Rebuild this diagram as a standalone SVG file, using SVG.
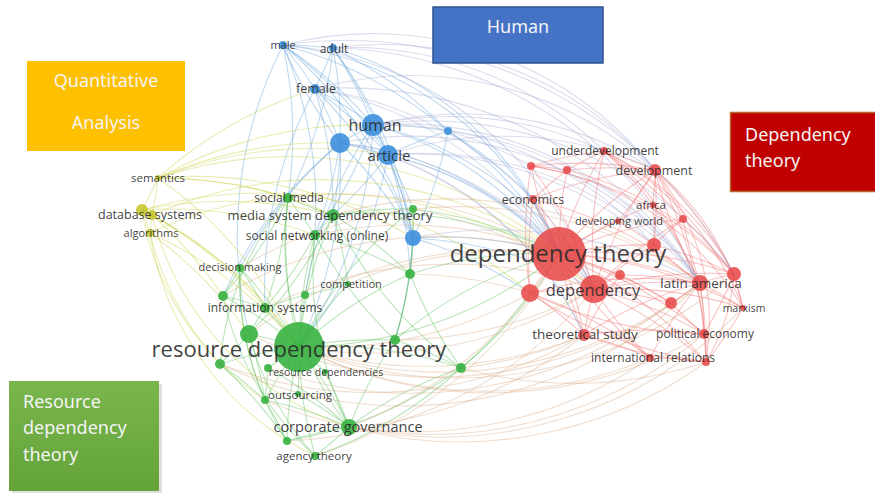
<svg xmlns="http://www.w3.org/2000/svg" width="875" height="493" viewBox="0 0 875 493">
<defs>
<style>
.e path{fill:none;stroke-width:1.1;stroke-opacity:.38}
.r path{stroke:#f06060}
.b path{stroke:#5a9ad8}
.p path{stroke:#9fa6d0}
.g path{stroke:#4cbb4c}
.y path{stroke:#c8cc3a}
.t path{stroke:#d8a884}
.nr{fill:#e84545;fill-opacity:.85}
.nb{fill:#3d8fdc;fill-opacity:.9}
.ng{fill:#33b03c;fill-opacity:.88}
.ny{fill:#c4c42a;fill-opacity:.88}
text.l{font-family:"Open Sans","Liberation Sans",sans-serif;fill:#2a2a2a;text-anchor:middle;fill-opacity:.9}
text.bx{font-family:"Noto Sans","Liberation Sans",sans-serif;fill:#f4f4f4;font-size:18px}
</style>
<linearGradient id="gg" x1="0" y1="0" x2="0" y2="1"><stop offset="0" stop-color="#79b64e"/><stop offset="1" stop-color="#64a23a"/></linearGradient>
</defs>
<rect width="875" height="493" fill="#fff"/>
<g id="connectors">
<g class="e r">
<path d="M559 254A420 420 0 0 1 604 151"/><path d="M559 254A420 420 0 0 1 531 166"/><path d="M559 254A420 420 0 0 1 567 170"/><path d="M559 254A420 420 0 0 1 655 170"/><path d="M559 254A420 420 0 0 1 533 199"/><path d="M559 254A420 420 0 0 1 653 205"/><path d="M559 254A420 420 0 0 1 683 219"/><path d="M559 254A420 420 0 0 1 618 221"/><path d="M559 254A420 420 0 0 1 654 245"/><path d="M559 254A420 420 0 0 1 620 275"/><path d="M559 254A420 420 0 0 1 700 283"/><path d="M559 254A420 420 0 0 1 734 274"/><path d="M559 254A420 420 0 0 1 671 303"/><path d="M559 254A420 420 0 0 1 743 308"/><path d="M559 254A420 420 0 0 1 704 334"/><path d="M559 254A420 420 0 0 1 706 362"/><path d="M584 335A420 420 0 0 1 559 254"/><path d="M650 358A420 420 0 0 1 559 254"/><path d="M530 293A420 420 0 0 1 559 254"/><path d="M594 289A420 420 0 0 1 559 254"/>
<path d="M594 289A420 420 0 0 1 604 151"/><path d="M594 289A420 420 0 0 1 655 170"/><path d="M594 289A420 420 0 0 1 683 219"/><path d="M594 289A420 420 0 0 1 654 245"/><path d="M594 289A420 420 0 0 1 700 283"/><path d="M594 289A420 420 0 0 1 734 274"/><path d="M594 289A420 420 0 0 1 743 308"/><path d="M594 289A420 420 0 0 1 704 334"/><path d="M594 289A420 420 0 0 1 706 362"/><path d="M584 335A420 420 0 0 1 594 289"/><path d="M650 358A420 420 0 0 1 594 289"/><path d="M530 293A420 420 0 0 1 594 289"/><path d="M594 289A420 420 0 0 1 620 275"/><path d="M594 289A420 420 0 0 1 671 303"/><path d="M533 199A420 420 0 0 1 594 289"/><path d="M531 166A420 420 0 0 1 594 289"/>
<path d="M700 283A420 420 0 0 1 655 170"/><path d="M700 283A420 420 0 0 1 683 219"/><path d="M700 283A420 420 0 0 1 654 245"/><path d="M700 283A420 420 0 0 1 734 274"/><path d="M700 283A420 420 0 0 1 743 308"/><path d="M700 283A420 420 0 0 1 704 334"/><path d="M700 283A420 420 0 0 1 706 362"/><path d="M584 335A420 420 0 0 1 700 283"/><path d="M650 358A420 420 0 0 1 700 283"/><path d="M530 293A420 420 0 0 1 700 283"/><path d="M700 283A420 420 0 0 1 671 303"/><path d="M620 275A420 420 0 0 1 700 283"/><path d="M604 151A420 420 0 0 1 700 283"/>
<path d="M604 151A420 420 0 0 1 655 170"/><path d="M531 166A420 420 0 0 1 655 170"/><path d="M567 170A420 420 0 0 1 655 170"/><path d="M533 199A420 420 0 0 1 655 170"/><path d="M655 170A420 420 0 0 1 653 205"/><path d="M655 170A420 420 0 0 1 683 219"/><path d="M655 170A420 420 0 0 1 618 221"/><path d="M655 170A420 420 0 0 1 654 245"/><path d="M655 170A420 420 0 0 1 734 274"/><path d="M655 170A420 420 0 0 1 704 334"/>
<path d="M530 293A420 420 0 0 1 533 199"/><path d="M530 293A420 420 0 0 1 531 166"/><path d="M530 293A420 420 0 0 1 584 335"/><path d="M530 293A420 420 0 0 1 650 358"/><path d="M584 335A420 420 0 0 1 704 334"/><path d="M584 335A420 420 0 0 1 650 358"/><path d="M584 335A420 420 0 0 1 620 275"/><path d="M704 334A420 420 0 0 1 706 362"/><path d="M734 274A420 420 0 0 1 704 334"/><path d="M704 334A420 420 0 0 1 671 303"/><path d="M654 245A420 420 0 0 1 734 274"/><path d="M683 219A420 420 0 0 1 734 274"/><path d="M734 274A420 420 0 0 1 743 308"/><path d="M531 166A420 420 0 0 1 604 151"/><path d="M567 170A420 420 0 0 1 604 151"/><path d="M604 151A420 420 0 0 1 683 219"/><path d="M531 166A420 420 0 0 1 567 170"/><path d="M533 199A420 420 0 0 1 567 170"/><path d="M654 245A420 420 0 0 1 683 219"/><path d="M653 205A420 420 0 0 1 654 245"/><path d="M618 221A420 420 0 0 1 654 245"/><path d="M620 275A420 420 0 0 1 671 303"/><path d="M743 308A420 420 0 0 1 706 362"/>
<path d="M604 151A300 300 0 0 1 734 274"/><path d="M604 151A300 300 0 0 1 743 308"/><path d="M655 170A250 250 0 0 1 743 308"/><path d="M531 166A350 350 0 0 1 734 274"/><path d="M533 199A420 420 0 0 1 700 283"/><path d="M704 334A420 420 0 0 1 530 293"/><path d="M706 362A420 420 0 0 1 530 293"/><path d="M706 362A420 420 0 0 1 584 335"/><path d="M734 274A200 200 0 0 1 706 362"/><path d="M567 170A320 320 0 0 1 734 274"/><path d="M604 151A260 260 0 0 1 706 362"/><path d="M655 170A240 240 0 0 1 706 362"/><path d="M531 166A300 300 0 0 1 743 308"/><path d="M650 358A420 420 0 0 1 706 362"/><path d="M533 199A420 420 0 0 1 584 335"/>
</g>
<g class="e b">
<path d="M283 45A420 420 0 0 1 333 48"/><path d="M283 45A420 420 0 0 1 315 89"/><path d="M333 48A420 420 0 0 1 315 89"/><path d="M283 45A420 420 0 0 1 373 125"/><path d="M333 48A420 420 0 0 1 373 125"/><path d="M340 143A420 420 0 0 1 283 45"/><path d="M333 48A420 420 0 0 1 340 143"/><path d="M315 89A420 420 0 0 1 373 125"/><path d="M315 89A420 420 0 0 1 340 143"/><path d="M315 89A420 420 0 0 1 388 155"/><path d="M283 45A420 420 0 0 1 388 155"/><path d="M333 48A420 420 0 0 1 388 155"/><path d="M340 143A420 420 0 0 1 373 125"/><path d="M373 125A420 420 0 0 1 388 155"/><path d="M340 143A420 420 0 0 1 388 155"/><path d="M373 125A420 420 0 0 1 448 131"/><path d="M388 155A420 420 0 0 1 448 131"/><path d="M388 155A420 420 0 0 1 413 238"/><path d="M373 125A420 420 0 0 1 413 238"/><path d="M340 143A420 420 0 0 1 413 238"/><path d="M283 45A420 420 0 0 1 413 238"/><path d="M333 48A420 420 0 0 1 413 238"/><path d="M315 89A420 420 0 0 1 413 238"/><path d="M448 131A420 420 0 0 1 413 238"/><path d="M333 48A420 420 0 0 1 448 131"/><path d="M283 45A420 420 0 0 1 448 131"/>
<path d="M283 45A420 420 0 0 1 288 198"/><path d="M283 45A420 420 0 0 1 315 235"/><path d="M340 143A420 420 0 0 1 333 215"/><path d="M340 143A420 420 0 0 1 315 235"/><path d="M240 268A420 420 0 0 1 340 143"/><path d="M223 296A420 420 0 0 1 340 143"/><path d="M388 155A420 420 0 0 1 333 215"/><path d="M388 155A420 420 0 0 1 299 347"/><path d="M373 125A420 420 0 0 1 299 347"/><path d="M265 308A420 420 0 0 1 315 89"/><path d="M249 334A420 420 0 0 1 283 45"/><path d="M388 155A420 420 0 0 1 413 209"/><path d="M373 125A420 420 0 0 1 315 235"/><path d="M340 143A420 420 0 0 1 299 347"/><path d="M315 89A420 420 0 0 1 333 215"/><path d="M388 155A420 420 0 0 1 410 274"/><path d="M413 238A420 420 0 0 1 410 274"/><path d="M413 238A420 420 0 0 1 395 340"/><path d="M333 48A420 420 0 0 1 288 198"/><path d="M305 295A420 420 0 0 1 373 125"/>
<path d="M283 45A340 340 0 0 1 559 254"/><path d="M333 48A340 340 0 0 1 559 254"/><path d="M373 125A340 340 0 0 1 559 254"/><path d="M340 143A340 340 0 0 1 559 254"/><path d="M388 155A340 340 0 0 1 559 254"/><path d="M448 131A340 340 0 0 1 559 254"/><path d="M413 238A420 420 0 0 1 559 254"/><path d="M413 238A420 420 0 0 1 594 289"/><path d="M413 238A420 420 0 0 1 530 293"/><path d="M373 125A340 340 0 0 1 594 289"/><path d="M448 131A420 420 0 0 1 533 199"/>
</g>
<g class="e p">
<path d="M283 45A360 360 0 0 1 655 170"/><path d="M333 48A360 360 0 0 1 655 170"/><path d="M333 48A360 360 0 0 1 604 151"/><path d="M315 89A360 360 0 0 1 559 254"/><path d="M315 89A420 420 0 0 1 700 283"/><path d="M373 125A360 360 0 0 1 655 170"/><path d="M373 125A360 360 0 0 1 604 151"/><path d="M373 125A360 360 0 0 1 700 283"/><path d="M373 125A380 380 0 0 1 734 274"/><path d="M340 143A360 360 0 0 1 594 289"/><path d="M388 155A360 360 0 0 1 594 289"/><path d="M388 155A360 360 0 0 1 700 283"/><path d="M388 155A360 360 0 0 1 654 245"/><path d="M448 131A360 360 0 0 1 531 166"/><path d="M413 238A420 420 0 0 1 700 283"/><path d="M283 45A360 360 0 0 1 594 289"/><path d="M333 48A420 420 0 0 1 700 283"/><path d="M315 89A360 360 0 0 1 594 289"/><path d="M388 155A360 360 0 0 1 655 170"/><path d="M448 131A360 360 0 0 1 700 283"/><path d="M373 125A360 360 0 0 1 654 245"/><path d="M340 143A360 360 0 0 1 700 283"/><path d="M283 45A440 440 0 0 1 734 274"/><path d="M315 89A360 360 0 0 1 655 170"/><path d="M340 143A340 340 0 0 1 584 335"/><path d="M388 155A340 340 0 0 1 584 335"/>
</g>
<g class="e g">
<path d="M299 347A420 420 0 0 1 288 198"/><path d="M299 347A420 420 0 0 1 333 215"/><path d="M299 347A420 420 0 0 1 413 209"/><path d="M299 347A420 420 0 0 1 315 235"/><path d="M240 268A420 420 0 0 1 299 347"/><path d="M299 347A420 420 0 0 1 348 284"/><path d="M299 347A420 420 0 0 1 410 274"/><path d="M299 347A420 420 0 0 1 305 295"/><path d="M223 296A420 420 0 0 1 299 347"/><path d="M265 308A420 420 0 0 1 299 347"/><path d="M249 334A420 420 0 0 1 299 347"/><path d="M299 347A420 420 0 0 1 395 340"/><path d="M299 347A420 420 0 0 1 461 368"/><path d="M220 364A420 420 0 0 1 299 347"/><path d="M268 368A420 420 0 0 1 299 347"/><path d="M265 400A420 420 0 0 1 299 347"/><path d="M299 347A420 420 0 0 1 298 394"/><path d="M299 347A420 420 0 0 1 349 427"/><path d="M287 441A420 420 0 0 1 299 347"/><path d="M315 456A420 420 0 0 1 299 347"/><path d="M299 347A420 420 0 0 1 325 372"/>
<path d="M333 215A420 420 0 0 1 288 198"/><path d="M333 215A420 420 0 0 1 315 235"/><path d="M333 215A420 420 0 0 1 413 209"/><path d="M333 215A420 420 0 0 1 410 274"/><path d="M288 198A420 420 0 0 1 315 235"/><path d="M315 235A420 420 0 0 1 305 295"/><path d="M223 296A420 420 0 0 1 265 308"/><path d="M240 268A420 420 0 0 1 265 308"/><path d="M249 334A420 420 0 0 1 265 308"/><path d="M249 334A420 420 0 0 1 220 364"/><path d="M220 364A420 420 0 0 1 265 400"/><path d="M220 364A420 420 0 0 1 287 441"/><path d="M240 268A420 420 0 0 1 223 296"/><path d="M348 284A420 420 0 0 1 305 295"/><path d="M410 274A420 420 0 0 1 395 340"/><path d="M395 340A420 420 0 0 1 461 368"/><path d="M268 368A420 420 0 0 1 265 400"/><path d="M349 427A420 420 0 0 1 315 456"/><path d="M287 441A420 420 0 0 1 349 427"/><path d="M265 400A420 420 0 0 1 349 427"/><path d="M349 427A420 420 0 0 1 461 368"/><path d="M349 427A420 420 0 0 1 395 340"/><path d="M288 198A420 420 0 0 1 223 296"/><path d="M288 198A420 420 0 0 1 265 308"/><path d="M315 235A420 420 0 0 1 265 308"/><path d="M333 215A420 420 0 0 1 249 334"/><path d="M413 209A420 420 0 0 1 410 274"/><path d="M315 235A420 420 0 0 1 410 274"/><path d="M265 308A420 420 0 0 1 305 295"/><path d="M265 400A420 420 0 0 1 287 441"/><path d="M325 372A420 420 0 0 1 349 427"/><path d="M298 394A420 420 0 0 1 349 427"/><path d="M249 334A420 420 0 0 1 265 400"/><path d="M268 368A420 420 0 0 1 349 427"/><path d="M333 215A420 420 0 0 1 348 284"/><path d="M413 209A420 420 0 0 1 395 340"/><path d="M461 368A420 420 0 0 1 410 274"/>
<path d="M220 364A300 300 0 0 1 288 198"/><path d="M315 456A300 300 0 0 1 223 296"/><path d="M287 441A300 300 0 0 1 240 268"/><path d="M349 427A300 300 0 0 1 288 198"/><path d="M265 400A300 300 0 0 1 240 268"/><path d="M315 456A300 300 0 0 1 249 334"/><path d="M349 427A350 350 0 0 1 315 235"/><path d="M461 368A420 420 0 0 1 333 215"/><path d="M395 340A420 420 0 0 1 315 235"/><path d="M461 368A420 420 0 0 1 315 456"/><path d="M461 368A420 420 0 0 1 287 441"/>
<path d="M333 215A420 420 0 0 1 559 254"/><path d="M413 209A420 420 0 0 1 559 254"/><path d="M410 274A420 420 0 0 1 559 254"/><path d="M395 340A420 420 0 0 1 559 254"/><path d="M559 254A420 420 0 0 1 299 347"/><path d="M559 254A420 420 0 0 1 461 368"/><path d="M530 293A420 420 0 0 1 461 368"/>
</g>
<g class="e t">
<path d="M315 235A420 420 0 0 1 559 254"/><path d="M413 209A420 420 0 0 1 594 289"/><path d="M288 198A420 420 0 0 1 559 254"/><path d="M410 274A420 420 0 0 1 530 293"/><path d="M223 296A420 420 0 0 1 559 254"/><path d="M265 308A420 420 0 0 1 594 289"/><path d="M249 334A420 420 0 0 1 559 254"/><path d="M240 268A420 420 0 0 1 700 283"/><path d="M333 215A420 420 0 0 1 700 283"/><path d="M348 284A420 420 0 0 1 559 254"/>
<path d="M594 289A420 420 0 0 1 299 347"/><path d="M530 293A420 420 0 0 1 299 347"/><path d="M700 283A420 420 0 0 1 299 347"/><path d="M584 335A420 420 0 0 1 299 347"/><path d="M650 358A420 420 0 0 1 299 347"/><path d="M734 274A420 420 0 0 1 299 347"/><path d="M559 254A420 420 0 0 1 349 427"/><path d="M584 335A420 420 0 0 1 349 427"/><path d="M650 358A420 420 0 0 1 349 427"/><path d="M584 335A420 420 0 0 1 461 368"/><path d="M584 335A420 420 0 0 1 220 364"/><path d="M559 254A420 420 0 0 1 315 456"/><path d="M594 289A420 420 0 0 1 287 441"/><path d="M704 334A420 420 0 0 1 265 400"/><path d="M706 362A420 420 0 0 1 349 427"/><path d="M700 283A420 420 0 0 1 249 334"/><path d="M671 303A420 420 0 0 1 268 368"/><path d="M704 334A420 420 0 0 1 299 347"/><path d="M743 308A420 420 0 0 1 349 427"/><path d="M706 362A420 420 0 0 1 461 368"/><path d="M594 289A420 420 0 0 1 395 340"/><path d="M700 283A420 420 0 0 1 220 364"/>
</g>
<g class="e y">
<path d="M158 178A420 420 0 0 1 142 210"/><path d="M158 178A420 420 0 0 1 152 215"/><path d="M142 210A420 420 0 0 1 152 215"/><path d="M152 215A420 420 0 0 1 150 233"/><path d="M142 210A420 420 0 0 1 150 233"/><path d="M158 178A420 420 0 0 1 299 347"/><path d="M158 178A420 420 0 0 1 288 198"/><path d="M158 178A420 420 0 0 1 333 215"/><path d="M142 210A420 420 0 0 1 299 347"/><path d="M152 215A420 420 0 0 1 299 347"/><path d="M150 233A420 420 0 0 1 299 347"/><path d="M142 210A420 420 0 0 1 265 308"/><path d="M152 215A420 420 0 0 1 223 296"/><path d="M158 178A420 420 0 0 1 373 125"/><path d="M158 178A420 420 0 0 1 388 155"/><path d="M142 210A420 420 0 0 1 333 215"/><path d="M142 210A420 420 0 0 1 315 235"/><path d="M158 178A420 420 0 0 1 559 254"/><path d="M152 215A420 420 0 0 1 559 254"/><path d="M150 233A420 420 0 0 1 594 289"/><path d="M315 456A300 300 0 0 1 150 233"/><path d="M349 427A300 300 0 0 1 152 215"/><path d="M220 364A300 300 0 0 1 150 233"/><path d="M158 178A420 420 0 0 1 315 89"/><path d="M158 178A420 420 0 0 1 340 143"/><path d="M265 400A280 280 0 0 1 142 210"/><path d="M150 233A420 420 0 0 1 249 334"/><path d="M158 178A420 420 0 0 1 413 238"/><path d="M142 210A420 420 0 0 1 530 293"/>
</g>
</g>
<g id="legend-human"><rect x="433" y="7" width="170" height="56" fill="#4472C4" stroke="#2F528F" stroke-width="1.5"/><text class="bx" x="518" y="33" text-anchor="middle">Human</text></g>
<g id="legend-quant"><rect x="27" y="61" width="158" height="90" fill="#FFC000"/><text class="bx" x="106" y="87" text-anchor="middle">Quantitative</text><text class="bx" x="106" y="129" text-anchor="middle">Analysis</text></g>
<g id="legend-dep"><rect x="730.5" y="112.5" width="146" height="79" fill="#C00000" stroke="#b8672e" stroke-width="1.5"/><text class="bx" x="745" y="141">Dependency</text><text class="bx" x="745" y="167">theory</text></g>
<g id="legend-rdt"><rect x="12" y="384" width="150" height="109" fill="#000" fill-opacity=".12"/><rect x="9" y="381" width="150" height="110" fill="url(#gg)"/><text class="bx" x="23" y="408">Resource</text><text class="bx" x="23" y="434">dependency</text><text class="bx" x="23" y="461">theory</text></g>
<g id="nodes">
<g id="n-male"><circle class="nb" cx="283" cy="45" r="4"/><text class="l" x="283" y="49" font-size="11">male</text></g>
<g id="n-adult"><circle class="nb" cx="333" cy="48" r="4"/><text class="l" x="334" y="53" font-size="12">adult</text></g>
<g id="n-female"><circle class="nb" cx="315" cy="89" r="5"/><text class="l" x="316" y="93" font-size="12.5">female</text></g>
<g id="n-human"><circle class="nb" cx="373" cy="125" r="11"/><text class="l" x="375" y="131" font-size="16">human</text></g>
<g id="n-b5"><circle class="nb" cx="340" cy="143" r="10"/></g>
<g id="n-article"><circle class="nb" cx="388" cy="155" r="10"/><text class="l" x="389" y="161" font-size="15">article</text></g>
<g id="n-b7"><circle class="nb" cx="448" cy="131" r="4"/></g>
<g id="n-b8"><circle class="nb" cx="413" cy="238" r="8"/></g>
<g id="n-social-media"><circle class="ng" cx="288" cy="198" r="5"/><text class="l" x="289" y="202" font-size="12">social media</text></g>
<g id="n-msdt"><circle class="ng" cx="333" cy="215" r="6"/><text class="l" x="330" y="219.5" font-size="13">media system dependency theory</text></g>
<g id="n-g3"><circle class="ng" cx="413" cy="209" r="4"/></g>
<g id="n-social-networking"><circle class="ng" cx="315" cy="235" r="5"/><text class="l" x="317" y="240" font-size="12">social networking (online)</text></g>
<g id="n-decision-making"><circle class="ng" cx="240" cy="268" r="4"/><text class="l" x="240" y="271" font-size="11">decision making</text></g>
<g id="n-competition"><circle class="ng" cx="348" cy="284" r="3"/><text class="l" x="351" y="288" font-size="11">competition</text></g>
<g id="n-g7"><circle class="ng" cx="410" cy="274" r="5"/></g>
<g id="n-g8"><circle class="ng" cx="305" cy="295" r="4"/></g>
<g id="n-g9"><circle class="ng" cx="223" cy="296" r="5"/></g>
<g id="n-information-systems"><circle class="ng" cx="265" cy="308" r="5"/><text class="l" x="265" y="312" font-size="12">information systems</text></g>
<g id="n-g11"><circle class="ng" cx="249" cy="334" r="9"/></g>
<g id="n-rdt"><circle class="ng" cx="299" cy="347" r="25"/><text class="l" x="299" y="357" font-size="22">resource dependency theory</text></g>
<g id="n-g13"><circle class="ng" cx="395" cy="340" r="5"/></g>
<g id="n-g14"><circle class="ng" cx="461" cy="368" r="5"/></g>
<g id="n-g15"><circle class="ng" cx="220" cy="364" r="5"/></g>
<g id="n-g16"><circle class="ng" cx="268" cy="368" r="4"/></g>
<g id="n-resource-dependencies"><circle class="ng" cx="325" cy="372" r="3"/><text class="l" x="326" y="376" font-size="10.5">resource dependencies</text></g>
<g id="n-outsourcing"><circle class="ng" cx="265" cy="400" r="4"/><circle class="ng" cx="298" cy="394" r="3"/><text class="l" x="300" y="399" font-size="11.5">outsourcing</text></g>
<g id="n-corporate-governance"><circle class="ng" cx="349" cy="427" r="8"/><text class="l" x="348" y="432" font-size="14.5">corporate governance</text></g>
<g id="n-g20"><circle class="ng" cx="287" cy="441" r="4"/></g>
<g id="n-agency-theory"><circle class="ng" cx="315" cy="456" r="4"/><text class="l" x="314" y="460" font-size="11.5">agency theory</text></g>
<g id="n-semantics"><circle class="ny" cx="158" cy="178" r="3"/><text class="l" x="158" y="182" font-size="11.5">semantics</text></g>
<g id="n-database-systems"><circle class="ny" cx="142" cy="210" r="6"/><circle class="ny" cx="152" cy="215" r="5"/><text class="l" x="150" y="218.5" font-size="12.5">database systems</text></g>
<g id="n-algorithms"><circle class="ny" cx="150" cy="233" r="4"/><text class="l" x="151" y="237" font-size="11">algorithms</text></g>
<g id="n-underdevelopment"><circle class="nr" cx="604" cy="151" r="4"/><text class="l" x="605" y="155" font-size="12">underdevelopment</text></g>
<g id="n-r5"><circle class="nr" cx="531" cy="166" r="4"/></g>
<g id="n-r6"><circle class="nr" cx="567" cy="170" r="4"/></g>
<g id="n-development"><circle class="nr" cx="655" cy="170" r="6"/><text class="l" x="654" y="174.5" font-size="12.5">development</text></g>
<g id="n-economics"><circle class="nr" cx="533" cy="199" r="4"/><text class="l" x="533" y="203.5" font-size="12.5">economics</text></g>
<g id="n-africa"><circle class="nr" cx="653" cy="205" r="3"/><text class="l" x="651" y="209" font-size="11.5">africa</text></g>
<g id="n-r10"><circle class="nr" cx="683" cy="219" r="4"/></g>
<g id="n-developing-world"><circle class="nr" cx="618" cy="221" r="3"/><text class="l" x="619" y="225" font-size="11">developing world</text></g>
<g id="n-r12"><circle class="nr" cx="654" cy="245" r="7"/></g>
<g id="n-dependency-theory"><circle class="nr" cx="559" cy="254" r="27"/><text class="l" x="558" y="262" font-size="24">dependency theory</text></g>
<g id="n-r13"><circle class="nr" cx="620" cy="275" r="5"/></g>
<g id="n-r3"><circle class="nr" cx="530" cy="293" r="9"/></g>
<g id="n-dependency"><circle class="nr" cx="594" cy="289" r="14"/><text class="l" x="593" y="295.5" font-size="16.5">dependency</text></g>
<g id="n-latin-america"><circle class="nr" cx="700" cy="283" r="8"/><text class="l" x="701" y="288" font-size="13.5">latin america</text></g>
<g id="n-r15"><circle class="nr" cx="734" cy="274" r="7"/></g>
<g id="n-r16"><circle class="nr" cx="671" cy="303" r="6"/></g>
<g id="n-marxism"><circle class="nr" cx="743" cy="308" r="3"/><text class="l" x="744" y="312" font-size="10.5">marxism</text></g>
<g id="n-theoretical-study"><circle class="nr" cx="584" cy="335" r="6"/><text class="l" x="585" y="339" font-size="13.5">theoretical study</text></g>
<g id="n-political-economy"><circle class="nr" cx="704" cy="334" r="5"/><text class="l" x="705" y="338" font-size="12">political economy</text></g>
<g id="n-international-relations"><circle class="nr" cx="650" cy="358" r="4"/><circle class="nr" cx="706" cy="362" r="4"/><text class="l" x="653" y="362" font-size="12">international relations</text></g>
</g>
</svg>
